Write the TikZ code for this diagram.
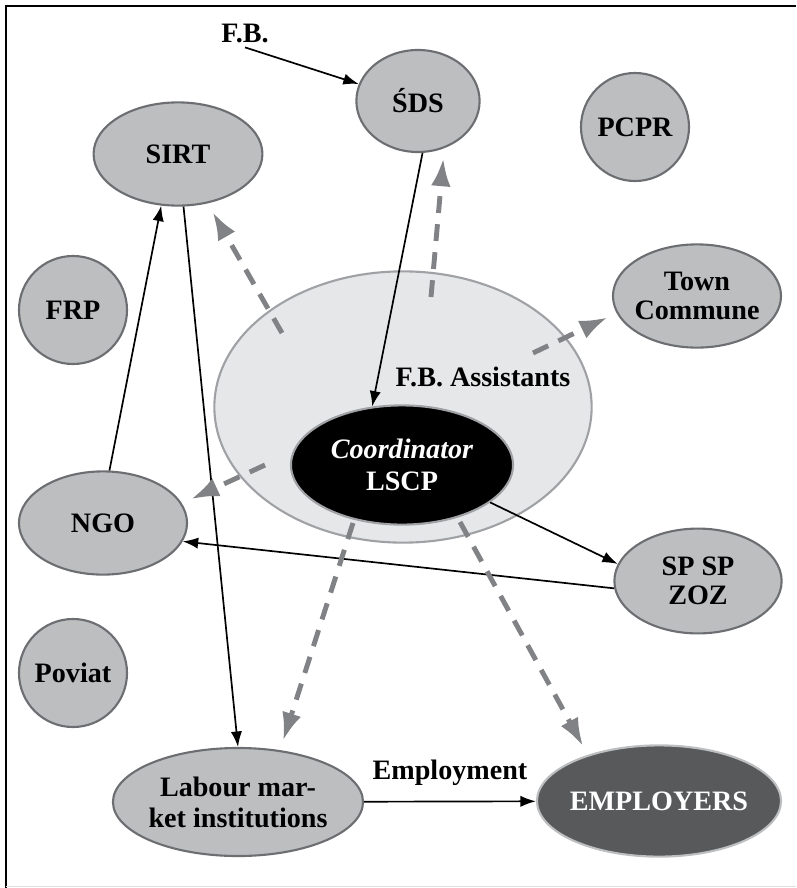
\documentclass[tikz,border=0pt]{standalone}
\usepackage{fontspec}
\setmainfont{Liberation Serif}
\usetikzlibrary{arrows.meta}
\usetikzlibrary{shapes.geometric}

\begin{document}
\begin{tikzpicture}[x=0.025cm, y=-0.025cm,
    knoten/.style={ellipse, draw=rand, line width=1.5pt, fill=grau, align=center, inner sep=0pt,
      font=\fontsize{20}{21}\selectfont\bfseries},
    kreis/.style={knoten, circle, minimum size=2.7cm},
    schrift/.style={font=\fontsize{20}{21}\selectfont\bfseries},
    pfeil/.style={-{Latex[length=11pt,width=8pt]}, line width=1.2pt},
    strich/.style={-{Latex[length=20pt,width=14pt]}, line width=3.5pt, pfeilgrau,
      dash pattern=on 12pt off 8pt, shorten >=7pt}]
    \definecolor{grau}{HTML}{BCBEC0}
    \definecolor{rand}{HTML}{6D6E71}
    \definecolor{hell}{HTML}{E6E7E8}
    \definecolor{randhell}{HTML}{A0A1A4}
    \definecolor{dunkel}{HTML}{58595B}
    \definecolor{pfeilgrau}{HTML}{808285}
    \useasboundingbox (0,0) rectangle (796,888);
    \draw[line width=1.4pt] (6,888) -- (6,6) -- (796,6);  %Rahmen links und oben
    \draw[black!12] (6,886) -- (796,886);  %Rahmen unten

    \node[ellipse, draw=randhell, line width=1.5pt, fill=hell,
      minimum width=9.43cm, minimum height=6.78cm] (fba) at (403,407) {};  %Assistenten
    \node[schrift] (fbatext) at (483,377) {F.B. Assistants};
    \node[ellipse, draw=randhell, line width=1.5pt, fill=black, text=white, align=center,
      inner sep=0pt, minimum width=5.55cm, minimum height=2.98cm,
      font=\fontsize{20}{23}\selectfont\bfseries] (coord) at (402,465)
      {{\itshape Coordinator}\\LSCP};

    \node[schrift] (fb) at (245,33) {F.B.};
    \node[knoten, minimum width=3.08cm, minimum height=2.55cm] (sds) at (418,101) {ŚDS};
    \node[knoten, minimum width=4.22cm, minimum height=2.58cm] (sirt) at (178,154) {SIRT};
    \node[knoten, minimum width=4.2cm, minimum height=2.58cm, inner xsep=-3.5pt,
      font=\fontsize{20}{20}\selectfont\bfseries] (town) at (697,296) {Town\\Commune};
    \node[knoten, minimum width=4.2cm, minimum height=2.58cm] (ngo) at (103,523) {NGO};
    \node[knoten, minimum width=4.18cm, minimum height=2.62cm] (spzoz) at (698,581) {SP SP\\ZOZ};
    \node[knoten, minimum width=6.25cm, minimum height=2.7cm, inner xsep=-2pt,
      font=\fontsize{20}{22}\selectfont\bfseries] (labour) at (238,802) {Labour mar-\\ket institutions};
    \node[knoten, draw=grau, fill=dunkel, text=white, minimum width=6.1cm, minimum height=2.78cm,
      inner xsep=-4pt] (employers) at (659,801) {EMPLOYERS};
    \foreach \name/\x/\y/\text in {pcpr/635/127/PCPR, frp/73/310/FRP, poviat/73/673/Poviat}
    {
      \node[kreis] (\name) at (\x,\y) {\text};
    };

    \draw[pfeil] (fb.south) -- (sds.164);
    \draw[pfeil] (sds.-85) -- (coord.117);
    \draw[pfeil] (ngo.83) -- (sirt.-108);
    \draw[pfeil] (sirt.-84) -- (labour.north);
    \draw[pfeil] (coord.-23) -- (spzoz.168);
    \draw[pfeil] (spzoz.185) -- (ngo.-13);
    \draw[pfeil] (labour) -- node[schrift, above=11pt, inner sep=0pt] (empl) {Employment} (employers);

    \coordinate (s1) at (282,333);  %Startpunkte der gestrichelten Pfeile
    \coordinate (s2) at (431,297);
    \coordinate (s3) at (533,353);
    \coordinate (s4) at (265,465);
    \coordinate (s5) at (353,523);
    \coordinate (s6) at (460,522);
    \foreach \s/\t in {s1/sirt.-59, s2/sds.-61, s3/town.192, s4/ngo.14, s5/labour.51, s6/employers.147}
    {
      \draw[strich] (\s) -- (\t);
    };
  \end{tikzpicture}
\end{document}
